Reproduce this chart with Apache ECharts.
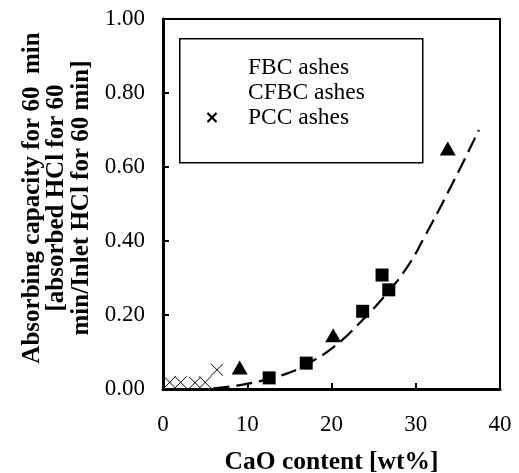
<!DOCTYPE html>
<html>
<head>
<meta charset="utf-8">
<script src="https://cdn.jsdelivr.net/npm/echarts@6/dist/echarts.min.js"></script>
<style>
  html, body { margin: 0; padding: 0; background: #fff; }
  #chart { width: 519px; height: 473px; }
</style>
</head>
<body>
<div id="chart"></div>
<script>
// CaO content [wt%] vs. HCl absorbing capacity after 60 min
const fbcAshes = [[12.6, 0.030], [17.0, 0.070], [23.7, 0.210], [26.0, 0.308], [26.8, 0.268]];
const cfbcAshes = [[9.1, 0.058], [20.2, 0.145], [33.8, 0.650]];
const pccAshes = [[0.8, 0.018], [2.1, 0.018], [3.8, 0.017], [5.0, 0.018], [6.4, 0.052]];
// trend line through the combined data
const trendLine = [[6.0, 0.002], [9.0, 0.010], [12.0, 0.024], [14.0, 0.036], [17.0, 0.066],
  [20.6, 0.120], [23.4, 0.180], [26.7, 0.262], [29.0, 0.330], [30.9, 0.405], [34.3, 0.553], [37.5, 0.700]];
const legendNames = ['FBC ashes', 'CFBC ashes', 'PCC ashes'];
const xTitle = 'CaO content [wt%]';
const yTitle = 'Absorbing capacity for 60  min\n[absorbed HCl for 60\nmin/Inlet HCl for 60 min]';

const FONT = '"Liberation Serif", "Times New Roman", serif';
const CROSS = 'path://M0,0L10,10M10,0L0,10';

const chart = echarts.init(document.getElementById('chart'), null, { renderer: 'canvas' });

chart.setOption({
  animation: false,
  backgroundColor: '#fff',
  grid: {
    left: 163, right: 19, top: 19, bottom: 84,
    outerBoundsMode: 'none',
    containLabel: false,
    show: true, borderColor: '#000', borderWidth: 2, backgroundColor: 'transparent'
  },
  graphic: [{
    type: 'rect',
    left: 179, top: 38,
    shape: { width: 243, height: 124 },
    style: { fill: '#fff', stroke: '#000', lineWidth: 1.5 },
    z: 5
  }],
  legend: {
    orient: 'vertical',
    left: 181, top: 55,
    padding: 0,
    itemGap: 0,
    itemWidth: 62,
    itemHeight: 9,
    symbolKeepAspect: true,
    z: 10,
    textStyle: { fontFamily: FONT, fontSize: 23.5, color: '#000', lineHeight: 25 },
    data: [
      { name: legendNames[0], icon: 'rect', itemStyle: { opacity: 0 } },
      { name: legendNames[1], icon: 'rect', itemStyle: { opacity: 0 } },
      { name: legendNames[2], icon: CROSS,
        itemStyle: { color: 'none', borderColor: '#000', borderWidth: 2.2 } }
    ]
  },
  xAxis: {
    type: 'value',
    min: 0, max: 40, interval: 10,
    name: xTitle,
    nameLocation: 'middle',
    nameGap: 60,
    nameTextStyle: { fontFamily: FONT, fontSize: 25.5, fontWeight: 'bold', color: '#000' },
    axisLine: { show: true, lineStyle: { color: '#000', width: 3 } },
    axisTick: { show: true, inside: true, length: 6, lineStyle: { color: '#000', width: 2 } },
    axisLabel: { fontFamily: FONT, fontSize: 23, color: '#000', margin: 24 },
    splitLine: { show: false }
  },
  yAxis: {
    type: 'value',
    min: 0, max: 1, interval: 0.2,
    name: yTitle,
    nameLocation: 'middle',
    nameRotate: 90,
    nameGap: 64,
    nameTextStyle: { fontFamily: FONT, fontSize: 25, fontWeight: 'bold', color: '#000', lineHeight: 24.5, align: 'center', padding: [0, 0, 0, 12] },
    axisLine: { show: true, lineStyle: { color: '#000', width: 3 } },
    axisTick: { show: true, inside: true, length: 6, lineStyle: { color: '#000', width: 2 } },
    axisLabel: {
      fontFamily: FONT, fontSize: 23, color: '#000', margin: 18,
      formatter: v => v.toFixed(2)
    },
    splitLine: { show: false }
  },
  series: [
    {
      name: 'trend',
      type: 'line',
      data: trendLine,
      smooth: true,
      showSymbol: false,
      symbol: 'none',
      lineStyle: { color: '#000', width: 2.2, type: [16, 7] },
      z: 2
    },
    {
      name: legendNames[0],
      type: 'scatter',
      data: fbcAshes,
      symbol: 'rect',
      symbolSize: 13,
      itemStyle: { color: '#000', opacity: 1 },
      z: 3
    },
    {
      name: legendNames[1],
      type: 'scatter',
      data: cfbcAshes,
      symbol: 'triangle',
      symbolSize: [16, 14],
      itemStyle: { color: '#000', opacity: 1 },
      z: 3
    },
    {
      name: legendNames[2],
      type: 'scatter',
      data: pccAshes,
      symbol: CROSS,
      symbolSize: 12,
      itemStyle: { color: 'none', borderColor: '#000', borderWidth: 1, opacity: 1 },
      z: 3
    }
  ]
});
</script>
</body>
</html>
